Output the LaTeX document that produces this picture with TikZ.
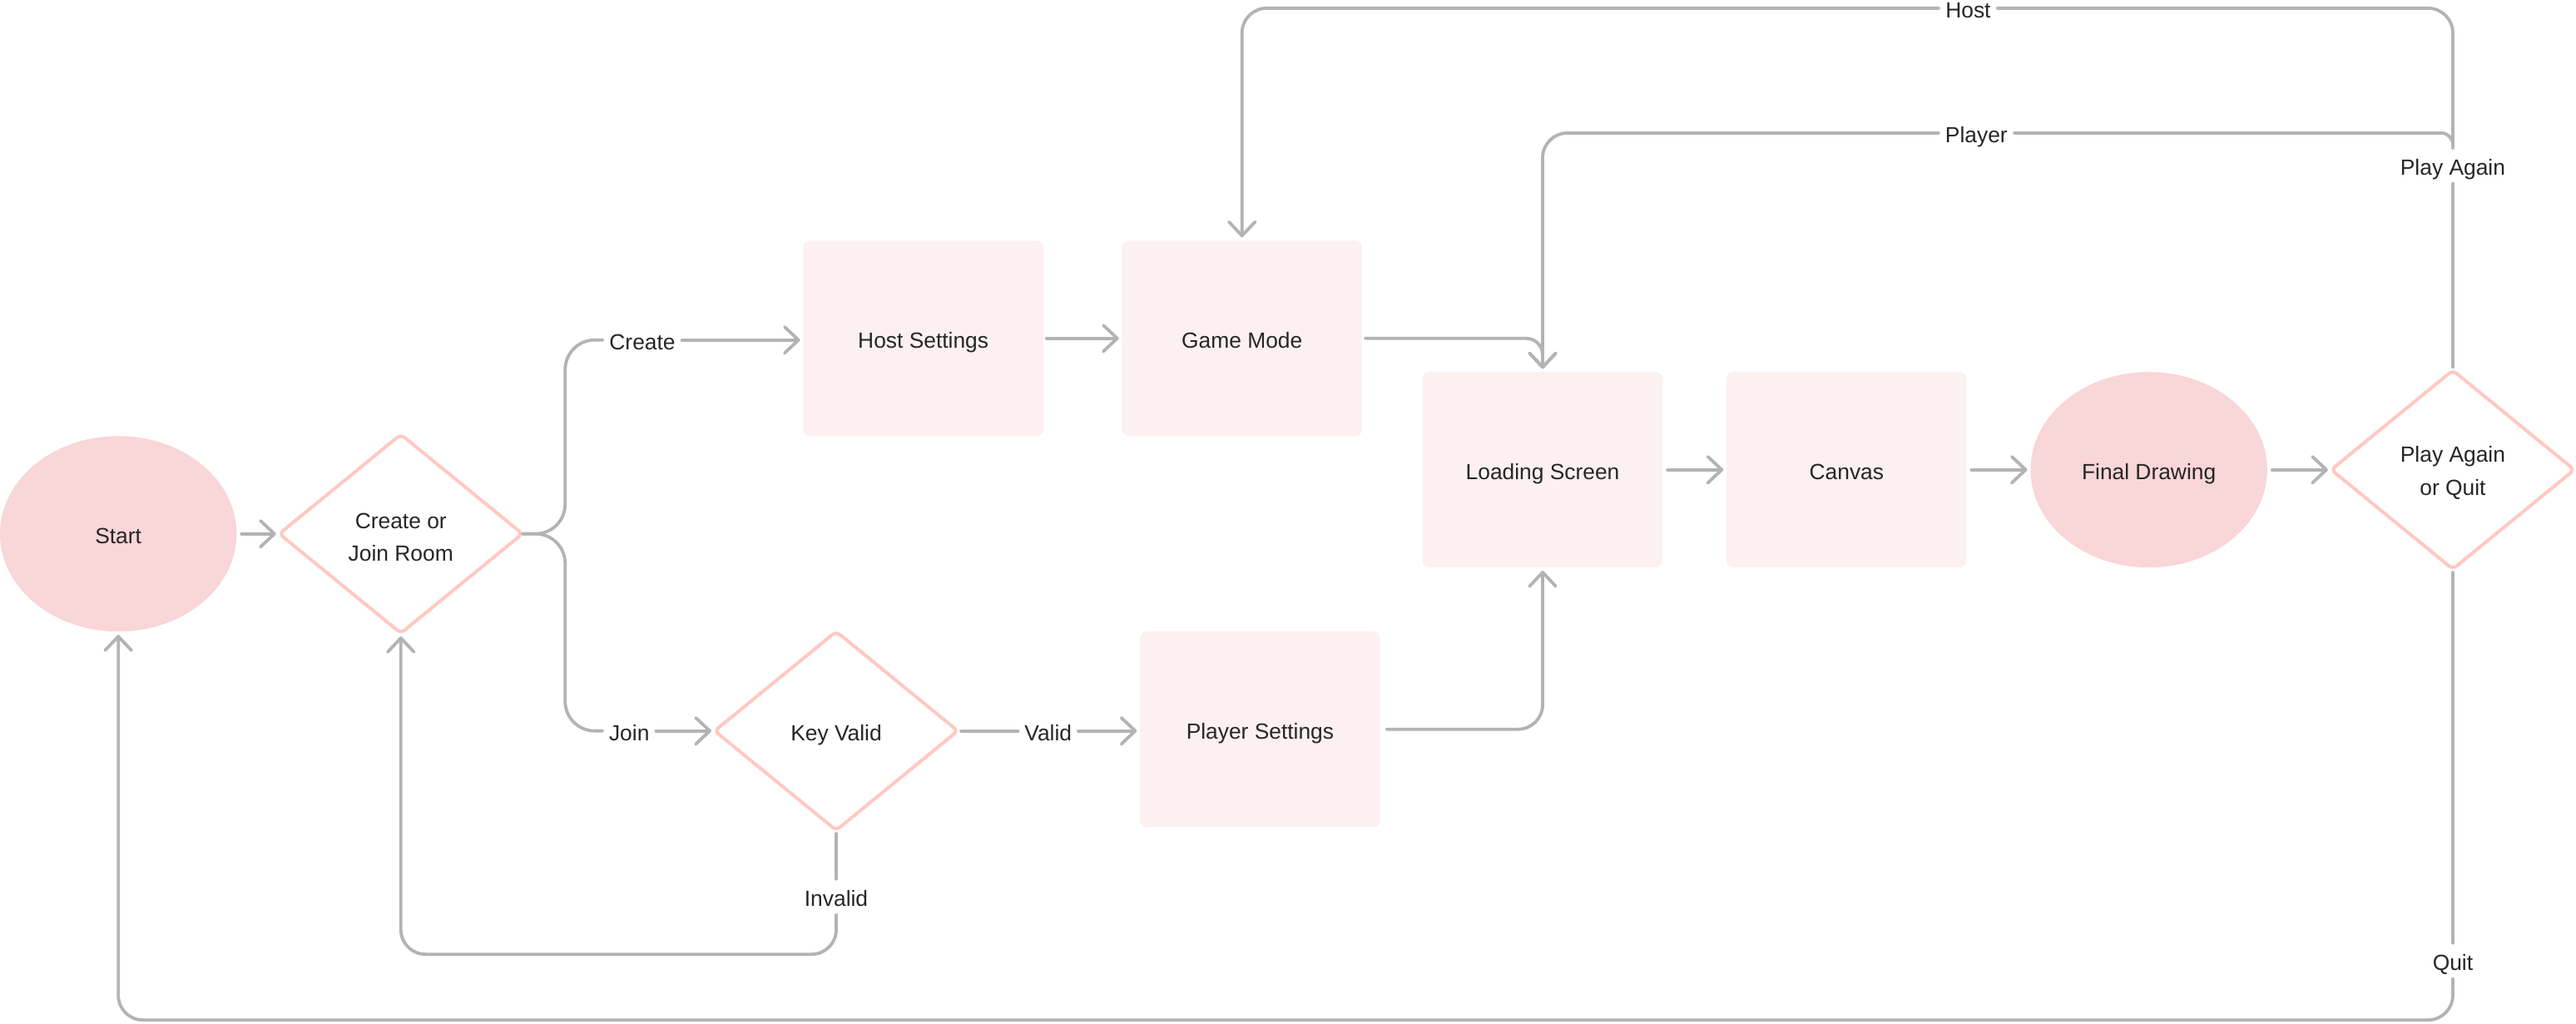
\documentclass[tikz,border=0pt]{standalone}
\usepackage{fontspec}
\setmainfont{Liberation Sans}
\usetikzlibrary{arrows.meta,shapes.geometric,calc}
\newlength\un \setlength\un{0.04cm}
% strut that raises the top of a two-line label so its lines sit a little lower
\newcommand\lift{\rule{0pt}{15.5pt}}
\definecolor{wiregray}{HTML}{B3B3B3}
\definecolor{petal}{HTML}{FFC8C1}
\definecolor{blush}{HTML}{F9D6D7}
\definecolor{mist}{HTML}{FCF0F0}
\definecolor{ink}{HTML}{262626}
\tikzset{
  every node/.style={font=\fontsize{15.2pt}{22.8pt}\selectfont, text=ink},
  oneline/.style={text height=13.2pt, text depth=0pt},
  oval/.style={oneline, ellipse, fill=blush, minimum width=144\un, minimum height=119\un, inner sep=0pt, outer sep=0pt},
  card/.style={oneline, rectangle, rounded corners=4\un, fill=mist, minimum width=146\un, minimum height=119\un, inner sep=0pt, outer sep=0pt},
  choice/.style={diamond, draw=petal, line width=2.3pt, rounded corners=3\un, minimum width=148\un, minimum height=121\un, inner sep=0pt, outer sep=0pt, align=center, fill=white},
  tag/.style={oneline, inner xsep=4\un, inner ysep=5\un, outer sep=0pt},
  link/.style={draw=wiregray, line width=2.2pt, line cap=round, line join=round},
  flow/.style={link, -{Straight Barb[length=0.34cm,width=0.64cm,round]}, shorten >=2\un},
}
\begin{document}
\begin{tikzpicture}[x=0.04cm, y=-0.04cm]
  \fill[white] (0,0) rectangle (1568,623);
  \useasboundingbox (0,0) rectangle (1568,623);

  % main steps
  \node[oval]   (start)   at (72,325)   {Start};
  \node[choice] (choose)  at (244,325)  {\lift Create or\\Join Room};
  \node[card]   (host)    at (562,206)  {Host Settings};
  \node[card]   (mode)    at (756,206)  {Game Mode};
  \node[choice, oneline] (key) at (509,445) {Key Valid};
  \node[card]   (player)  at (767,444)  {Player Settings};
  \node[card]   (loading) at (939,286)  {Loading Screen};
  \node[card]   (canvas)  at (1124,286) {Canvas};
  \node[oval]   (final)   at (1308,286) {Final Drawing};
  \node[choice] (again)   at (1493,286) {\lift Play Again\\or Quit};

  % branch labels
  \node[tag] (lcreate)  at (391,207)  {Create};
  \node[tag] (ljoin)    at (383,445)  {Join};
  \node[tag] (lvalid)   at (638,445)  {Valid};
  \node[tag] (linvalid) at (509,546)  {Invalid};
  \node[tag] (lquit)    at (1493,585) {Quit};
  \node[tag] (lagain)   at (1493,101) {Play Again};
  \node[tag] (lhost)    at (1198,5)   {Host};
  \node[tag] (lplayer)  at (1203,81)  {Player};

  \coordinate (yinv)  at (0,581);
  \coordinate (yquit) at (0,621);

  % connectors
  \draw[flow, shorten <=3\un] (start) -- (choose);
  \draw[link, rounded corners=18\un] (choose.east) -- ++(26,0) |- (lcreate.west);
  \draw[link, rounded corners=18\un] (choose.east) -- ++(26,0) |- (ljoin.west);
  \draw[flow] (lcreate.east) -- (lcreate.east -| host.west);
  \draw[flow] (ljoin.east) -- (key.west);
  \draw[flow, shorten <=2\un] (host) -- (mode);
  \draw[link, shorten <=2\un] (key.east) -- (lvalid.west);
  \draw[flow] (lvalid.east) -- (lvalid.east -| player.west);
  \draw[link, shorten <=2\un] (key.south) -- (linvalid.north);
  \draw[flow, rounded corners=15\un] (linvalid.south) -- (linvalid.south |- yinv) -| (choose.south);
  \draw[flow, rounded corners=15\un, shorten <=4\un] (player.east) -| (loading.south);
  \draw[flow, rounded corners=10\un, shorten <=2\un] (mode.east) -| (loading.north);
  \draw[flow, shorten <=3\un] (loading) -- (canvas);
  \draw[flow, shorten <=3\un] (canvas) -- (final);
  \draw[flow, shorten <=3\un] (final) -- (again);
  \draw[link, shorten <=2\un] (again.north) -- (lagain.south);
  \draw[link, rounded corners=15\un] (lagain.north) |- (lhost.east);
  \draw[flow, rounded corners=15\un] (lhost.west) -| (mode.north);
  \draw[link, rounded corners=7\un] (lagain.north) |- (lplayer.east);
  \draw[flow, rounded corners=15\un] (lplayer.west) -| (loading.north);
  \draw[link, shorten <=2\un] (again.south) -- (lquit.north);
  \draw[flow, rounded corners=15\un] (lquit.south) -- (lquit.south |- yquit) -| (start.south);
\end{tikzpicture}
\end{document}
